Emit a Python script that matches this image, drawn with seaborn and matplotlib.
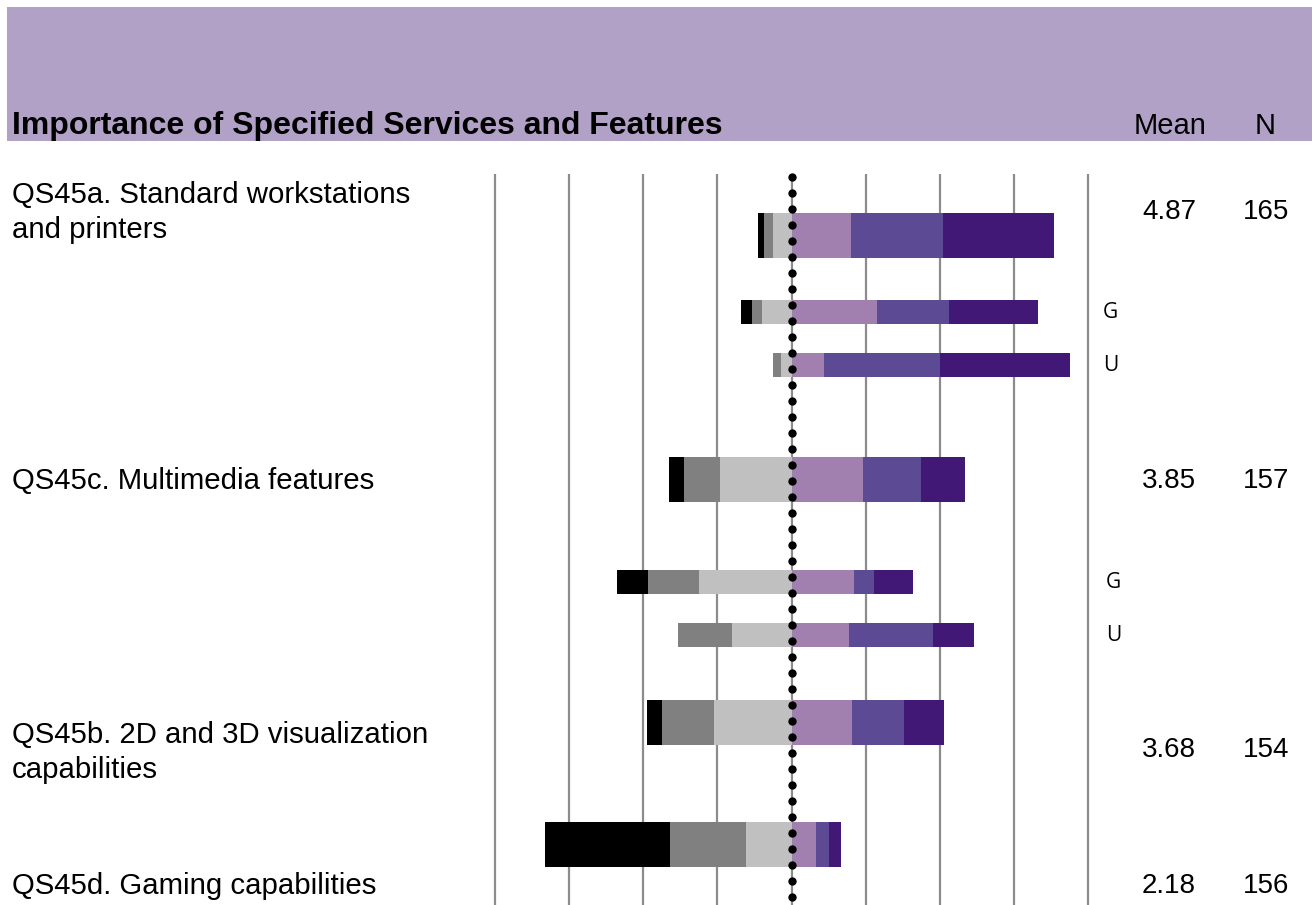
import numpy as np
import pandas as pd
import matplotlib
matplotlib.use("Agg")
import matplotlib.pyplot as plt
import seaborn as sns
from matplotlib.patches import Rectangle

# --- data (percent of respondents per rating 1..6) ---
row_ids = ["a_all", "a_G", "a_U", "c_all", "c_G", "c_U", "b_all", "d_all"]
pct_1 = [2.0, 3.7, 0.0, 5.1, 10.7, 0.0, 5.1, 42.1]
pct_2 = [3.0, 3.4, 2.4, 12.1, 17.1, 18.2, 17.6, 25.6]
pct_3 = [6.4, 9.8, 3.7, 24.2, 31.2, 20.2, 26.0, 15.5]
pct_4 = [19.9, 29.0, 11.1, 24.2, 21.1, 19.5, 20.3, 8.4]
pct_5 = [31.3, 24.0, 38.9, 19.5, 6.7, 28.3, 17.6, 4.4]
pct_6 = [37.4, 30.1, 43.9, 14.8, 13.1, 13.8, 13.5, 4.0]

questions = ["QS45a. Standard workstations\nand printers",
             "QS45c. Multimedia features",
             "QS45b. 2D and 3D visualization\ncapabilities",
             "QS45d. Gaming capabilities"]
means = ["4.87", "3.85", "3.68", "2.18"]
counts = ["165", "157", "154", "156"]
sub_labels = ["G", "U", "G", "U"]

title = "Importance of Specified Services and Features"

# --- layout (pixels of the 1312x905 canvas) ---
W, H = 1312, 905
bar_y = [235.5, 312, 365, 479, 582, 635, 722.5, 844.5]
is_sub = [False, True, True, False, True, True, False, False]
q_pos = [(12, 203), (12, 489), (12, 743), (12, 894)]
val_y = [219, 488, 757, 893]
sub_pos = [(1103, 318), (1103, 371), (1106, 588), (1106, 641)]

colors = ["#000000", "#7f807f", "#c0c0c0", "#a17fae", "#5d4a94", "#421876"]
purple_band = "#b2a1c7"
grid_gray = "#8c8c8c"

df = pd.DataFrame({"row": row_ids, "y": bar_y, "sub": is_sub,
                   "p1": pct_1, "p2": pct_2, "p3": pct_3,
                   "p4": pct_4, "p5": pct_5, "p6": pct_6})
df["neg3"] = -(df.p1 + df.p2 + df.p3)
df["neg2"] = -(df.p2 + df.p3)
df["neg1"] = -df.p3
df["pos3"] = df.p4 + df.p5 + df.p6
df["pos2"] = df.p4 + df.p5
df["pos1"] = df.p4

sns.set_theme(style="white")
plt.rcParams["font.family"] = ["Liberation Sans", "DejaVu Sans"]
plt.rcParams["text.color"] = "black"

fig = plt.figure(figsize=(W / 100, H / 100), dpi=100)

# purple header band
fig.patches.append(Rectangle((7 / W, 1 - 141 / H), (W - 7) / W, 134 / H,
                             transform=fig.transFigure, facecolor=purple_band,
                             edgecolor="none", zorder=0))

# bar area: x in percent, y in canvas pixels
x0 = 791.5 - 105 * 2.965
x1 = 791.5 + 105 * 2.965
ax = fig.add_axes([x0 / W, 0, (x1 - x0) / W, (H - 174) / H])

for xv in [-100, -75, -50, -25, 0, 25, 50, 75, 100]:
    ax.axvline(xv, color=grid_gray, lw=1.6, zorder=0)

for sub_flag, bar_h in [(False, 45), (True, 24)]:
    part = df[df["sub"] == sub_flag]
    gap = np.diff(np.sort(part["y"].values)).min()
    for col, c in zip(["neg3", "neg2", "neg1", "pos3", "pos2", "pos1"],
                      [colors[0], colors[1], colors[2], colors[5], colors[4], colors[3]]):
        sns.barplot(data=part, x=col, y="y", orient="y", native_scale=True,
                    width=bar_h / gap, color=c, saturation=1, errorbar=None,
                    linewidth=0, ax=ax)

# dotted centre line on top of the bars
dot_y = np.arange(177, H + 8, 16)
ax.plot(np.zeros(len(dot_y)), dot_y, "o", color="black", ms=6, mew=0,
        zorder=5, clip_on=False)

ax.set_xlim(-105, 105)
ax.set_ylim(H, 174)
ax.axis("off")

# text
fig.text(12 / W, 1 - 134 / H, title, fontsize=23, fontweight="bold", va="baseline")
fig.text(1170 / W, 1 - 134 / H, "Mean", fontsize=21, ha="center", va="baseline")
fig.text(1265 / W, 1 - 134 / H, "N", fontsize=21, ha="center", va="baseline")

for q, (qx, qy) in zip(questions, q_pos):
    lines = q.split("\n")
    for i, line in enumerate(lines):
        fig.text(qx / W, 1 - (qy + i * 35) / H, line, fontsize=21.2, va="baseline")

for m, n, vy in zip(means, counts, val_y):
    fig.text(1169 / W, 1 - vy / H, m, fontsize=20, ha="center", va="baseline")
    fig.text(1266 / W, 1 - vy / H, n, fontsize=20, ha="center", va="baseline")

for s, (sx, sy) in zip(sub_labels, sub_pos):
    fig.text(sx / W, 1 - sy / H, s, fontsize=15, va="baseline",
             family=["Open Sans", "DejaVu Sans"])

fig.savefig("out.png", dpi=100)
